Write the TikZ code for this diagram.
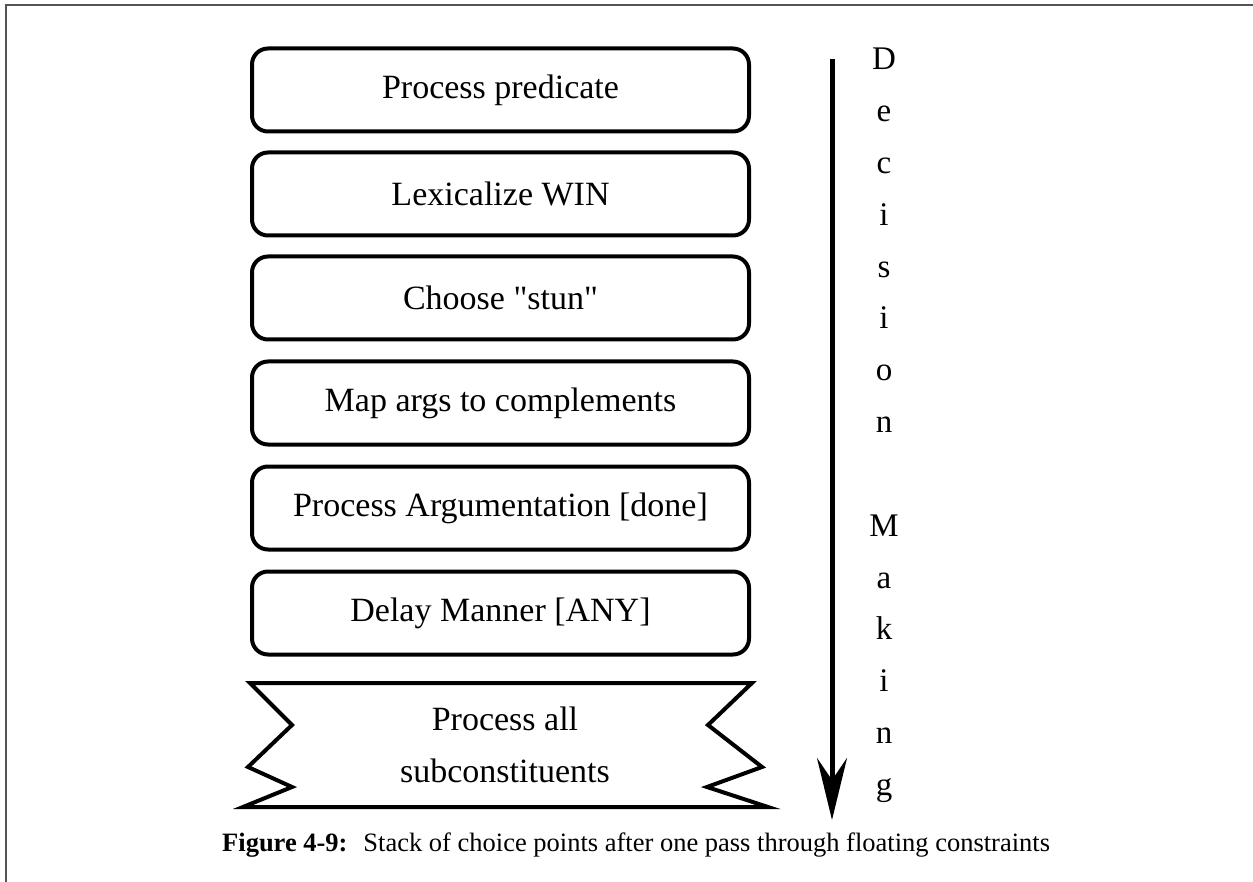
\documentclass[tikz,border=0pt]{standalone}
\usepackage{fontspec}
\setmainfont{Liberation Serif}
% same face without the TeX ligature mapping, for a straight double quote
\newfontfamily\plainserif{Liberation Serif}
\newcommand{\dq}{{\plainserif\symbol{34}}}
\usetikzlibrary{arrows.meta}
\begin{document}
\begin{tikzpicture}[x=1pt,y=-1pt,
  frame/.style={draw=black!67, line width=2pt},
  stackbox/.style={draw, line width=4pt, rounded corners=16pt,
    minimum width=497pt, minimum height=83pt, inner sep=0pt,
    font=\fontsize{34}{40}\selectfont},
  bannerline/.style={draw, line width=4pt, line join=miter},
  bannertext/.style={align=center, inner sep=0pt,
    font=\fontsize{34}{52}\selectfont},
  letter/.style={anchor=base, inner sep=0pt, font=\fontsize{33}{40}\selectfont},
  timeline/.style={line width=5pt, -{Stealth[length=62pt,width=30pt,inset=22pt]}},
  captiontext/.style={anchor=base west, inner sep=0pt, font=\fontsize{26.5}{32}\selectfont}]
\useasboundingbox (0,0) rectangle (1253,882);

% page frame: top and left rules
\draw[frame] (1253,5) -- (6,5) -- (6,882);

% stack of choice points
\node[stackbox] (s1) at (500.5,90)  {Process predicate};
\node[stackbox] (s2) at (500.5,194) {Lexicalize WIN};
\node[stackbox] (s3) at (500.5,298) {Choose \dq stun\dq};
\node[stackbox] (s4) at (500.5,403) {Map args to complements};
\node[stackbox] (s5) at (500.5,508) {Process Argumentation [done]};
\node[stackbox] (s6) at (500.5,613) {Delay Manner [ANY]};

% banner at the bottom of the stack
\draw[bannerline] (250,683) -- (752,683) -- (708,725) -- (762,767) -- (707,787)
  -- (768,807) -- (243,807) -- (292,787) -- (248,767) -- (292,725) -- cycle;
\node[bannertext] (s7) at (505,745) {Process all\\subconstituents};

% direction of decision making
\coordinate (atop) at (832,59);
\coordinate (abot) at (832,820);
\draw[timeline] (atop) -- (abot);
\foreach \ch [count=\i] in {D,e,c,i,s,i,o,n,{},M,a,k,i,n,g}
  \node[letter] (L\i) at (884,{70+(\i-1)*51.8}) {\ch};

% caption
\node[captiontext] (cap) at (222,851)
  {\textbf{Figure 4-9:}\hspace{0.6em}Stack of choice points after one pass through floating constraints};
\end{tikzpicture}
\end{document}
